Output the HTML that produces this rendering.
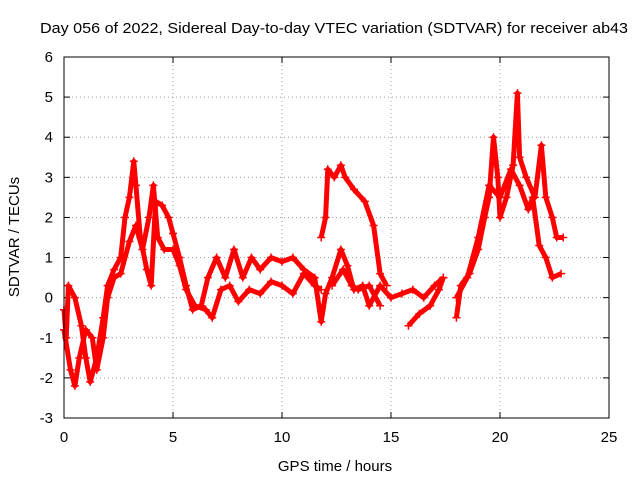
<!DOCTYPE html>
<html><head><meta charset="utf-8"><style>
body{margin:0;background:#fff}
svg text{font-family:"Liberation Sans",sans-serif;font-size:15px;fill:#000}
</style></head><body>
<svg id="chart" width="640" height="480">
<text x="334" y="33" text-anchor="middle" textLength="588" lengthAdjust="spacingAndGlyphs">Day 056 of 2022, Sidereal Day-to-day VTEC variation (SDTVAR) for receiver ab43</text>
<text x="335" y="471" text-anchor="middle">GPS time / hours</text>
<text x="0" y="0" text-anchor="middle" transform="translate(19,237) rotate(-90)">SDTVAR / TECUs</text>
<g id="grid"></g><g id="series"></g>
<rect x="64" y="57" width="545" height="361" fill="none" stroke="#000"/>
</svg>
<script>
const xTicks=[0,5,10,15,20,25];
const yTicks=[-3,-2,-1,0,1,2,3,4,5,6];
const trackA=[[0,-0.3],[0.1,-1],[0.2,0.3],[0.5,0],[0.8,-0.7],[1.0,-1.5],[1.2,-2.1],[1.5,-1.5],[1.8,-0.5],[2.0,0.3],[2.3,0.7],[2.6,1.0],[2.8,2.0],[3.0,2.5],[3.2,3.4],[3.3,2.8],[3.5,1.5],[3.8,0.7],[4.0,0.3],[4.2,2.4],[4.5,2.3],[4.8,2.0],[5.0,1.6],[5.3,1.0],[5.6,0.3],[5.9,-0.3],[6.3,-0.2],[6.6,0.5],[7.0,1.0],[7.4,0.5],[7.8,1.2],[8.2,0.5],[8.6,1.0],[9.0,0.7],[9.5,1.0],[10.0,0.9],[10.5,1.0],[11.0,0.7],[11.5,0.5],[11.8,-0.6],[12.0,0.1],[12.3,0.5],[12.7,1.2],[13.0,0.8],[13.3,0.2],[13.7,0.3],[14.0,-0.2],[14.5,0.3],[15.0,0.0],[15.5,0.1],[16.0,0.2],[16.5,0.0],[17.0,0.3],[17.4,0.5]];
const trackB=[[0,-0.8],[0.3,-1.8],[0.5,-2.2],[0.7,-1.5],[1.0,-0.8],[1.3,-1.0],[1.5,-1.8],[1.8,-1.0],[2.0,0],[2.3,0.5],[2.6,0.6],[3.0,1.4],[3.3,1.8],[3.6,1.2],[3.9,2.0],[4.1,2.8],[4.3,1.5],[4.6,1.2],[5.0,1.2],[5.3,0.8],[5.6,0.2],[6.0,-0.2],[6.5,-0.3],[6.8,-0.5],[7.2,0.2],[7.6,0.3],[8.0,-0.1],[8.5,0.2],[9.0,0.1],[9.5,0.4],[10.0,0.3],[10.5,0.1],[11.0,0.6],[11.5,0.3],[11.8,0.2]];
const trackC=[[11.8,1.5],[12.0,2.0],[12.1,3.2],[12.4,3.0],[12.7,3.3],[12.9,3.0],[13.3,2.7],[13.8,2.4],[14.2,1.8],[14.5,0.6],[14.8,0.3]];
const trackC2=[[12.3,0.3],[12.8,0.7],[13.2,0.3],[13.5,0.2],[14.0,0.3],[14.5,-0.2]];
const trackD=[[15.8,-0.7],[16.3,-0.4],[16.8,-0.2],[17.2,0.2],[17.4,0.5]];
const trackE=[[18.0,-0.5],[18.2,0.3],[18.6,0.6],[19.0,1.2],[19.3,2.0],[19.5,2.5],[19.7,4.0],[19.9,3.0],[20.0,2.0],[20.3,2.5],[20.6,3.3],[20.8,5.1],[20.9,3.5],[21.2,3.0],[21.6,2.5],[21.9,3.8],[22.1,2.5],[22.4,2.0],[22.6,1.5],[22.9,1.5]];
const trackF=[[18.0,0.0],[18.5,0.5],[19.0,1.5],[19.5,2.8],[20.0,2.5],[20.5,3.2],[20.9,2.8],[21.3,2.2],[21.5,2.5],[21.8,1.3],[22.1,1.0],[22.4,0.5],[22.8,0.6]];
const tracks=[trackA,trackB,trackC,trackC2,trackD,trackE,trackF];
const NS="http://www.w3.org/2000/svg";
const X0=64,X1=609,Y0=418,Y1=57;
const xs=v=>X0+(v-0)/25*(X1-X0);
const ys=v=>Y0-(v+3)/9*(Y0-Y1);
const grid=document.getElementById('grid'),ser=document.getElementById('series');
function mk(t,a,p){const e=document.createElementNS(NS,t);for(const k in a)e.setAttribute(k,a[k]);p.appendChild(e);return e;}
xTicks.forEach(v=>{const x=xs(v);
 if(v>0&&v<25){const l=mk('line',{x1:x,x2:x,y1:Y0,y2:Y1,stroke:'#a0a0a0','stroke-dasharray':'1,3'},grid);}
 mk('line',{x1:x,x2:x,y1:Y0,y2:Y0-6,stroke:'#000'},grid);mk('line',{x1:x,x2:x,y1:Y1,y2:Y1+6,stroke:'#000'},grid);
 const t=mk('text',{x:x,y:Y0+24,'text-anchor':'middle'},grid);t.textContent=v;
 });
yTicks.forEach(v=>{const y=ys(v);
 if(v>-3&&v<6){const l=mk('line',{x1:X0,x2:X1,y1:y,y2:y,stroke:'#a0a0a0','stroke-dasharray':'1,3'},grid);}
 mk('line',{x1:X0,x2:X0+6,y1:y,y2:y,stroke:'#000'},grid);mk('line',{x1:X1,x2:X1-6,y1:y,y2:y,stroke:'#000'},grid);
 const t=mk('text',{x:X0-11,y:y+5,'text-anchor':'end'},grid);t.textContent=v;
 });
tracks.forEach((tr,i)=>{
 const d=tr.map((p,j)=>(j?'L':'M')+xs(p[0]).toFixed(1)+','+ys(p[1]).toFixed(1)).join('');
 const path=mk('path',{d:d,fill:'none',stroke:'#f00','stroke-width':5,'stroke-linejoin':'round'},ser);
 
 
 tr.forEach(p=>{const x=xs(p[0]),y=ys(p[1]);
  const m=mk('path',{d:`M${x-4},${y}h8M${x},${y-4}v8`,stroke:'#f00','stroke-width':1.5},ser);
  
  });
});
</script>
</body></html>
